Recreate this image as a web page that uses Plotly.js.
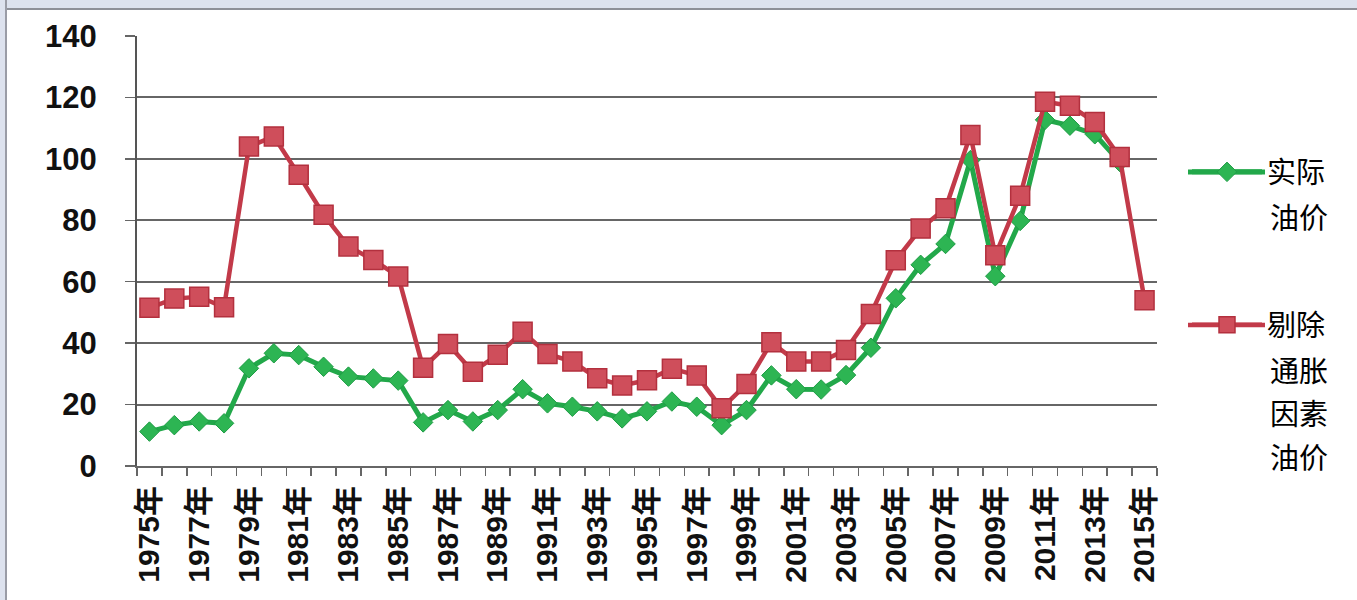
<!DOCTYPE html>
<html><head><meta charset="utf-8">
<script src="https://cdn.plot.ly/plotly-3.0.1.min.js"></script>
<style>
html,body{margin:0;padding:0;background:#fff;width:1357px;height:600px;overflow:hidden}
#chart{position:absolute;left:0;top:0;width:1357px;height:600px}
#bandTop{position:absolute;left:0;top:0;width:1357px;height:8px;background:#dde2ee;border-bottom:2px solid #8e9098}
#bandLeft{position:absolute;left:0;top:0;width:5px;height:600px;background:#dde2ee;border-right:2px solid #9a9ca6}
</style></head><body>
<div id="chart"></div><div id="bandTop"></div><div id="bandLeft"></div>
<script>
const years = [1975,1976,1977,1978,1979,1980,1981,1982,1983,1984,1985,1986,1987,1988,1989,1990,1991,1992,1993,1994,1995,1996,1997,1998,1999,2000,2001,2002,2003,2004,2005,2006,2007,2008,2009,2010,2011,2012,2013,2014,2015];
const actualPrice = [11.2,13.3,14.5,13.9,31.8,36.7,36.1,32.3,29.1,28.5,27.8,14.2,18.2,14.5,18.2,25.0,20.4,19.3,17.8,15.5,17.8,21.0,19.3,13.3,18.2,29.5,25.0,24.9,29.6,38.5,54.6,65.5,72.3,99.6,61.8,79.8,112.7,110.8,108.0,99.0,null];
const realPrice = [51.5,54.5,55.1,51.7,104.0,107.3,94.8,81.8,71.5,67.1,61.7,32.0,39.7,30.7,36.2,43.7,36.5,34.0,28.6,26.2,27.9,31.7,29.5,18.8,26.7,40.3,34.0,34.0,37.8,49.5,67.0,77.3,83.9,107.8,68.6,88.0,118.6,117.3,112.0,100.6,54.0];
const tickYears = [1975,1977,1979,1981,1983,1985,1987,1989,1991,1993,1995,1997,1999,2001,2003,2005,2007,2009,2011,2013,2015];
const tickLabels = ["1975年","1977年","1979年","1981年","1983年","1985年","1987年","1989年","1991年","1993年","1995年","1997年","1999年","2001年","2003年","2005年","2007年","2009年","2011年","2013年","2015年"];
// legend names, one line per entry (first line in the legend, the rest below it)
const actualNameLines = ["实际","油价"];
const realNameLines = ["剔除","通胀","因素","油价"];

const FONT = "Liberation Sans, Arial, Noto Sans CJK SC, sans-serif";
const LFONT = {family: "Noto Sans CJK SC, sans-serif", size: 29, color: '#000'};
const GREEN = '#22a84a', RED = '#c23a49';

const traces = [
  {x: years, y: actualPrice, name: actualNameLines[0], type: 'scatter', mode: 'lines+markers',
   legend: 'legend', connectgaps: false,
   line: {color: GREEN, width: 5},
   marker: {symbol: 'diamond', size: 15, color: '#2db553', line: {color: '#1e9c45', width: 1}}},
  {x: years, y: realPrice, name: realNameLines[0], type: 'scatter', mode: 'lines+markers',
   legend: 'legend2',
   line: {color: RED, width: 4.5},
   marker: {symbol: 'square', size: 19, color: '#cf4e5b', line: {color: '#b3303e', width: 1.5}}}
];

// plot area in page pixels: x 137..1157, y 36..466
const px2x = p => (p - 137) / 1020;
const px2y = p => (466 - p) / 430;
const textLeft = 1268;
const legendRows = [[actualNameLines, 172, GREEN, 5], [realNameLines, 325, RED, 4.5]];
const annotations = [];
const shapes = [];
legendRows.forEach(([lines, y0, col, w]) => {
  lines.slice(1).forEach((t, i) => {
    annotations.push({text: t, xref: 'paper', yref: 'paper', x: px2x(textLeft), y: px2y(y0 + 43.5 * (i + 1)),
      xanchor: 'left', yanchor: 'middle', showarrow: false, font: LFONT});
  });
  // longer legend sample line, as in the reference
  shapes.push({type: 'line', xref: 'paper', yref: 'paper', x0: px2x(1188), x1: px2x(1265),
    y0: px2y(y0), y1: px2y(y0), line: {color: col, width: w}, layer: 'above'});
});

const layout = {
  width: 1357, height: 600,
  margin: {l: 137, r: 200, t: 36, b: 134},
  paper_bgcolor: '#ffffff', plot_bgcolor: '#ffffff',
  showlegend: true,
  legend: {x: px2x(1187), y: px2y(172), xanchor: 'left', yanchor: 'middle', font: LFONT, itemwidth: 70, bgcolor: 'rgba(0,0,0,0)'},
  legend2: {x: px2x(1187), y: px2y(325), xanchor: 'left', yanchor: 'middle', font: LFONT, itemwidth: 70, bgcolor: 'rgba(0,0,0,0)'},
  annotations: annotations,
  shapes: shapes,
  xaxis: {
    range: [1974.5, 2015.5], tickmode: 'array', tickvals: tickYears, ticktext: tickLabels,
    tickangle: -90, ticks: '', showgrid: false, zeroline: false,
    showline: true, linecolor: '#666', linewidth: 2, ticklabelstandoff: 6,
    tickfont: {family: FONT, size: 30, color: '#111', weight: 'bold'},
    minor: {tick0: 1974.5, dtick: 1, ticks: 'outside', ticklen: 8, tickwidth: 1.5, tickcolor: '#666', showgrid: false}
  },
  yaxis: {
    range: [0, 140], dtick: 20, showgrid: true, gridcolor: '#666666', gridwidth: 2,
    zeroline: false, showline: true, linecolor: '#555', linewidth: 2,
    ticks: 'outside', ticklen: 10, tickwidth: 1.5, tickcolor: '#666',
    ticklabelstandoff: 22,
    tickfont: {family: FONT, size: 31, color: '#111', weight: 'bold'}
  },
  hovermode: false
};

Plotly.newPlot('chart', traces, layout, {displayModeBar: false, staticPlot: true});
</script>
</body></html>
